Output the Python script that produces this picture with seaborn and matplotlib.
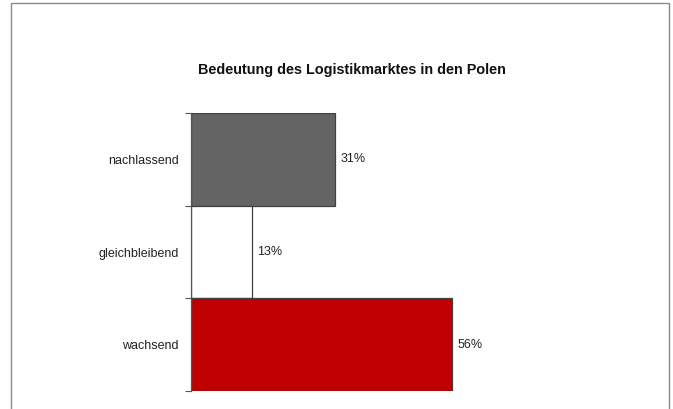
import matplotlib
matplotlib.use("Agg")
import matplotlib.pyplot as plt
from matplotlib.patches import Rectangle
import seaborn as sns
import pandas as pd

categories = ["nachlassend", "gleichbleibend", "wachsend"]
values = [31, 13, 56]
colors = ["#646464", "#FFFFFF", "#C00000"]
title = "Bedeutung des Logistikmarktes in den Polen"

sns.set_theme(style="white")
plt.rcParams["font.family"] = ["Liberation Sans", "DejaVu Sans"]

df = pd.DataFrame({"Kategorie": categories, "Wert": values})

fig = plt.figure(figsize=(6.73, 4.09), dpi=100)
fig.patch.set_facecolor("white")

# outer frame of the chart area
fig.add_artist(Rectangle((11 / 673, -0.05), 658 / 673, 1 - 3 / 409 + 0.05,
                         transform=fig.transFigure, fill=False,
                         edgecolor="#8a8a8a", linewidth=1.0))

ax = fig.add_axes([191 / 673, 1 - 391 / 409, 466 / 673, 278 / 409])
sns.barplot(data=df, x="Wert", y="Kategorie", hue="Kategorie",
            palette=colors, order=categories, hue_order=categories,
            width=1.0, edgecolor="#404040", linewidth=0.9,
            legend=False, saturation=1, ax=ax)

ax.set_xlim(0, 100)
ax.set_ylim(2.5, -0.5)
ax.set_xlabel("")
ax.set_ylabel("")
ax.set_xticks([])
for side in ["top", "right", "bottom"]:
    ax.spines[side].set_visible(False)
ax.spines["left"].set_color("#555555")
ax.spines["left"].set_linewidth(0.9)

ax.set_yticks(range(len(categories)))
ax.set_yticklabels(categories, fontsize=9.0, color="#222222")
ax.set_yticks([-0.5, 0.5, 1.5, 2.5], minor=True)
ax.tick_params(axis="y", which="major", length=0, pad=9)
ax.tick_params(axis="y", which="minor", length=4, width=0.8,
               color="#555555", left=True)

for i, v in enumerate(values):
    ax.text(v + 1.2, i, f"{v}%", va="center", ha="left",
            fontsize=9.0, color="#222222")

fig.text(352 / 673, 1 - 70 / 409, title, ha="center", va="center",
         fontsize=10.4, fontweight="bold", color="#111111")

fig.savefig("out.png", dpi=100, facecolor="white")
